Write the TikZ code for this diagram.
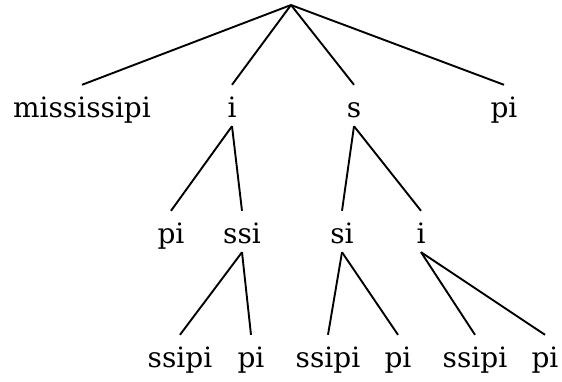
\documentclass[tikz,border=0pt]{standalone}
\usepackage{fontspec}
\setmainfont{DejaVu Serif}
\begin{document}
\begin{tikzpicture}[x=1pt,y=-1pt,
  lbl/.style={inner xsep=0pt,inner ysep=0pt,text height=32pt,text depth=9pt,anchor=base,
    font=\fontsize{28}{30}\selectfont},
  edge/.style={line width=1.9pt,black}]
\useasboundingbox (0,0) rectangle (562,381);
\node[coordinate] (r) at (291,5) {};
% level 1
\node[lbl] (a1) at (82,117) {mississipi};
\node[lbl] (a2) at (232,117) {i};
\node[lbl] (a3) at (354,117) {s};
\node[lbl] (a4) at (504,117) {pi};
% level 2
\node[lbl] (b1) at (171,243) {pi};
\node[lbl] (b2) at (242,243) {ssi};
\node[lbl] (b3) at (342,243) {si};
\node[lbl] (b4) at (421,243) {i};
% level 3
\node[lbl] (c1) at (180,367) {ssipi};
\node[lbl] (c2) at (251,367) {pi};
\node[lbl] (c3) at (328,367) {ssipi};
\node[lbl] (c4) at (398,367) {pi};
\node[lbl] (c5) at (475,367) {ssipi};
\node[lbl] (c6) at (545,367) {pi};
\foreach \c in {a1,a2,a3,a4} \draw[edge] (r) -- (\c.north);
\draw[edge] (a2.south) -- (b1.north);
\draw[edge] (a2.south) -- (b2.north);
\draw[edge] (a3.south) -- (b3.north);
\draw[edge] (a3.south) -- (b4.north);
\draw[edge] (b2.south) -- (c1.north);
\draw[edge] (b2.south) -- (c2.north);
\draw[edge] (b3.south) -- (c3.north);
\draw[edge] (b3.south) -- (c4.north);
\draw[edge] (b4.south) -- (c5.north);
\draw[edge] (b4.south) -- (c6.north);
\end{tikzpicture}
\end{document}
